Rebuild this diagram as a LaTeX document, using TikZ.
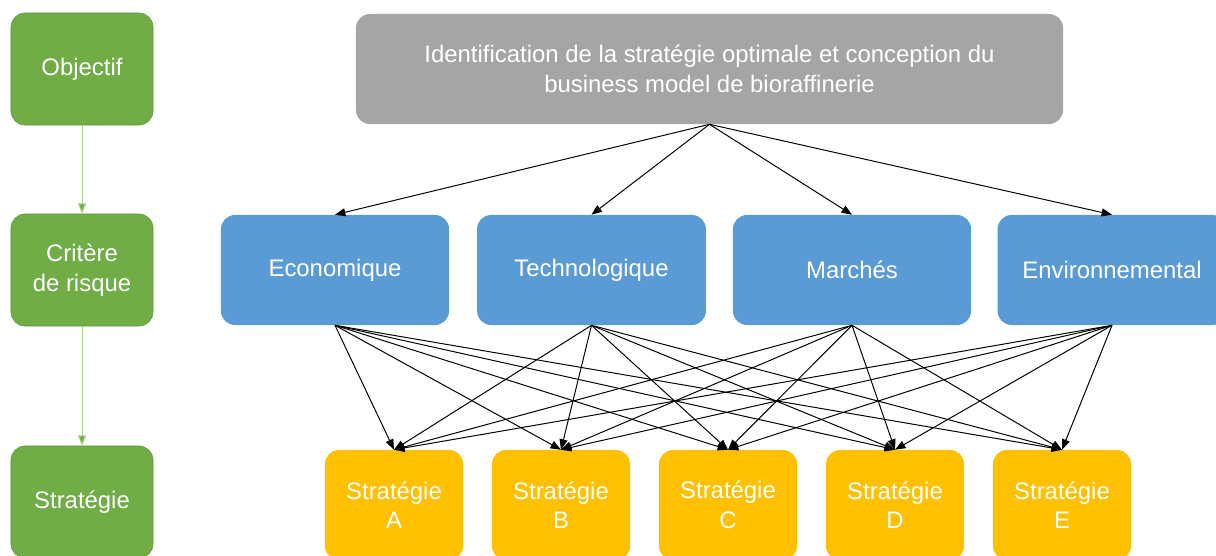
\documentclass[tikz,border=0pt]{standalone}
\usepackage{fontspec}
\setmainfont{Liberation Sans}
\usetikzlibrary{arrows.meta}
\begin{document}
\begin{tikzpicture}[x=0.025cm,y=-0.025cm,
  box/.style={rounded corners=0.35cm,text=white,align=center,inner sep=0pt,
    font=\fontsize{17}{21}\selectfont},
  link/.style={-{Triangle[length=2.6mm,width=2mm]},line width=0.7pt},
  levellink/.style={link,draw=levelLine,-{Triangle[length=2.6mm,width=2mm,fill=levelGreen]}}]
\definecolor{levelGreen}{HTML}{70AD47}
\definecolor{levelEdge}{HTML}{5E9A3A}
\definecolor{levelLine}{HTML}{A9D18E}
\definecolor{goalGray}{HTML}{A5A5A5}
\definecolor{critBlue}{HTML}{5B9BD5}
\definecolor{stratYellow}{HTML}{FFC000}
\useasboundingbox (0,0) rectangle (1216,555);
% levels on the left
\foreach \y/\nm/\lab in {69/obj/Objectif,270/crit/Critère\\de risque,502/strat/Stratégie}
  \node[box,fill=levelGreen,draw=levelEdge,minimum width=3.55cm,minimum height=2.8cm]
    (\nm) at (82,\y) {\lab};
\draw[levellink] (obj) -- (crit);
\draw[levellink] (crit) -- (strat);
% objective
\node[box,fill=goalGray,minimum width=17.675cm,minimum height=2.75cm] (goal) at (709.5,69)
  {Identification de la stratégie optimale et conception du\\business model de bioraffinerie};
% risk criteria
\foreach \x/\w/\nm/\lab in {335/5.7/eco/Economique,591.5/5.72/tech/Technologique,
    852/5.95/mark/Marchés,1112/5.72/env/Environnemental} {
  \node[box,fill=critBlue,minimum width=\w cm,minimum height=2.75cm] (\nm) at (\x,270) {\lab};
  \draw[link] (goal.south) -- (\nm.north);
}
% strategies
\foreach \x/\lab in {394/A,561/B,728/C,895/D,1062/E}
  \node[box,fill=stratYellow,minimum width=3.45cm,minimum height=2.75cm] (s\lab) at (\x,505)
    {Stratégie\\\lab};
\foreach \c in {eco,tech,mark,env}
  \foreach \s in {A,B,C,D,E}
    \draw[link] (\c.south) -- (s\s.north);
\end{tikzpicture}
\end{document}
